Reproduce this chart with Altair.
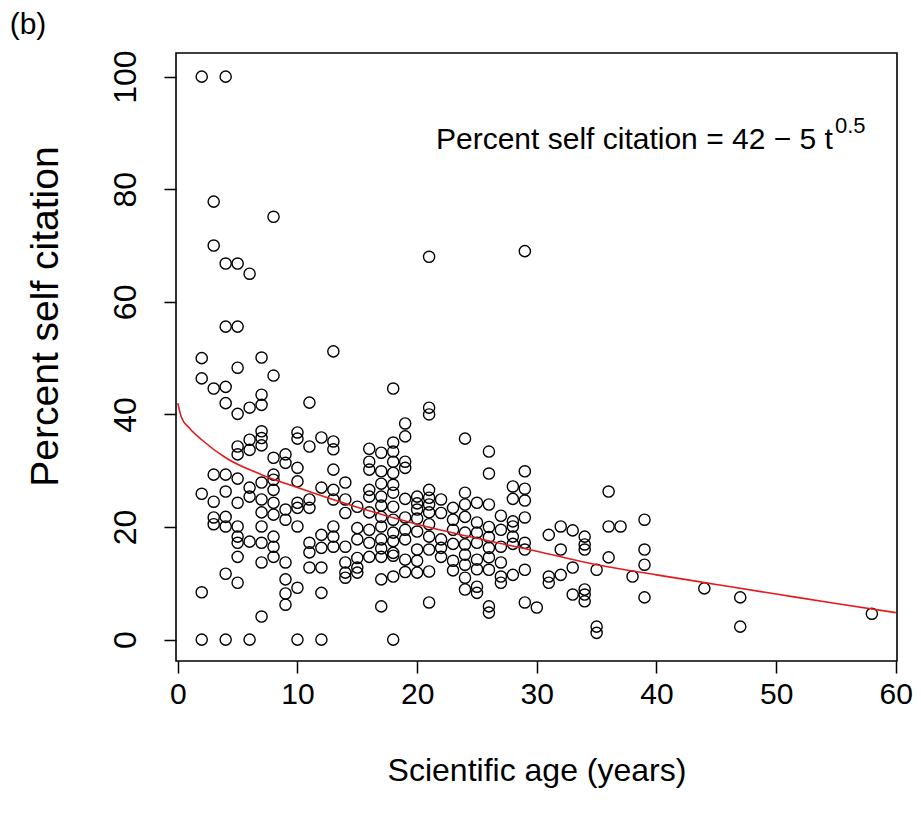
import altair as alt
import pandas as pd

# Scientific age (years) columns and the percent self citation values read at each
ages = [2, 3, 4, 5, 6, 7, 8, 9, 10, 11, 12, 13, 14, 15, 16, 17, 18, 19, 20, 21,
        22, 23, 24, 25, 26, 27, 28, 29, 30, 31, 32, 33, 34, 35, 36, 37, 38, 39,
        44, 47, 58]
values = [
    [100, 50, 46.4, 25.9, 8.4, 0],
    [77.8, 70, 44.6, 29.3, 24.5, 21.7, 20.5],
    [100, 66.8, 55.6, 44.9, 42, 29.3, 26.3, 21.8, 20.1, 11.7, 0],
    [66.8, 55.6, 48.3, 40.1, 34.3, 32.9, 28.6, 24.3, 20.1, 18.3, 17.2, 14.7, 10.1],
    [65, 41.2, 35.5, 33.7, 27, 25.4, 17.4, 0],
    [50.1, 43.5, 41.7, 37, 35.8, 34.5, 27.9, 24.9, 22.6, 20.1, 17.2, 13.7, 4.1],
    [75.1, 46.9, 32.3, 29.3, 28.4, 26.6, 24.3, 22.2, 18.3, 16.5, 14.7],
    [32.9, 31.4, 23.1, 21.3, 13.7, 10.7, 8.2, 6.2],
    [36.8, 35.7, 30.5, 28.1, 24.3, 23.4, 20.1, 9.2, 0],
    [42.1, 34.3, 24.9, 23.4, 17.2, 15.5, 12.8],
    [35.9, 27, 18.6, 16.3, 12.8, 8.3, 0],
    [51.2, 35.2, 33.8, 30.2, 26.6, 24.9, 20.1, 18.3, 16.5],
    [27.9, 24.9, 22.5, 16.5, 13.7, 11.9, 11],
    [23.6, 19.8, 17.8, 14.5, 12.8, 11.9],
    [33.9, 31.6, 30.2, 26.6, 25.4, 22.6, 19.5, 17.2, 14.7],
    [33.2, 29.9, 27.7, 25.4, 23.8, 21.8, 20.1, 17.8, 16.2, 14.7, 10.7, 5.9],
    [44.6, 35, 33.4, 31.6, 29.6, 27.5, 26.1, 23.6, 21.3, 19, 17.5, 15.4, 14.9, 11.2, 0],
    [38.4, 36.1, 31.6, 30.5, 25, 21.7, 19.5, 17.8, 14.2, 12],
    [25.4, 24.2, 23.1, 21.5, 19.2, 16, 14, 11.9],
    [68, 41.2, 40, 26.6, 25.2, 24, 22.6, 20.5, 18.3, 16, 12.1, 6.6],
    [24.9, 22.5, 17.8, 16.3, 14.7],
    [23.4, 21.3, 19.5, 17, 14, 12.3],
    [35.7, 26.1, 24, 21.8, 19, 16.9, 15.1, 13.3, 11, 8.9],
    [24.3, 20.8, 19, 17.2, 14.2, 12.5, 9.4, 8.3],
    [33.4, 29.5, 24, 20, 18.2, 16.3, 14.6, 12.4, 5.9, 4.8],
    [22, 19.5, 16.5, 13.7, 11.2, 10.1],
    [27.2, 25, 21, 20.1, 18.3, 17, 11.5],
    [69, 29.9, 26.8, 24.7, 21.7, 17.2, 16, 12.4, 6.6],
    [5.7],
    [18.6, 11.2, 10.1],
    [20.1, 16, 11.5],
    [19.4, 12.8, 8],
    [18.3, 16.9, 16, 8.9, 8, 6.8],
    [12.4, 2.3, 1.2],
    [26.3, 20.1, 14.6],
    [20.1],
    [11.2],
    [21.3, 16, 13.3, 7.5],
    [9.1],
    [7.5, 2.3],
    [4.6],
]

# fitted curve
fit_t = [0, 0.3, 1, 2, 4, 7, 10, 15, 20, 25, 30, 35, 40, 45, 50, 55, 60]
fit_v = [42, 39.5, 37.5, 35.5, 32.3, 29.3, 27, 23.5, 20.5, 18, 15.7, 13.3, 11.5, 9.8, 8.1, 6.4, 4.8]

x_ticks = [0, 10, 20, 30, 40, 50, 60]
y_ticks = [0, 20, 40, 60, 80, 100]

rows = [(a, v) for a, vs in zip(ages, values) for v in vs]
pts = pd.DataFrame(rows, columns=["age", "pct"])
fit = pd.DataFrame({"age": fit_t, "pct": fit_v})

FONT = "Liberation Sans"
W, H = 721, 608
LEFT = 168

xs = alt.Scale(domain=[-0.15, 60.1], nice=False, zero=False)
ys = alt.Scale(domain=[-3.8, 104.2], nice=False, zero=False)

x_axis = alt.Axis(values=x_ticks, title="Scientific age (years)", grid=False, domain=False,
                  tickSize=12, tickWidth=1.5, tickColor="black",
                  labelFont=FONT, labelFontSize=30, labelColor="black", labelPadding=6,
                  labelBaseline="top",
                  titleFont=FONT, titleFontSize=32, titleFontWeight="normal", titleColor="black",
                  titleY=109, titleBaseline="middle")
y_axis = alt.Axis(values=y_ticks, title="Percent self citation", grid=False, domain=False,
                  tickSize=12, tickWidth=1.5, tickColor="black",
                  labelFont=FONT, labelFontSize=32, labelColor="black", labelPadding=22,
                  labelAngle=270, labelAlign="center", labelBaseline="bottom",
                  titleFont=FONT, titleFontSize=39, titleFontWeight="normal", titleColor="black",
                  titleAngle=270, titleX=-131, titleY=263, titleAlign="center", titleBaseline="middle")

points = alt.Chart(pts).mark_point(shape="circle", filled=False, color="black",
                                   size=125, strokeWidth=1.4, opacity=1).encode(
    x=alt.X("age:Q", scale=xs, axis=x_axis),
    y=alt.Y("pct:Q", scale=ys, axis=y_axis),
)

curve = alt.Chart(fit).mark_line(color="#e41a1c", strokeWidth=1.6, interpolate="monotone").encode(
    x=alt.X("age:Q", scale=xs),
    y=alt.Y("pct:Q", scale=ys),
)

label_df = pd.DataFrame({"t": ["Percent self citation = 42 \u2212 5 t"]})
eq = alt.Chart(label_df).mark_text(font=FONT, fontSize=30, align="left", baseline="middle",
                                   color="black").encode(
    text="t:N", x=alt.value(260), y=alt.value(87))
sup = alt.Chart(pd.DataFrame({"t": ["0.5"]})).mark_text(font=FONT, fontSize=22, align="left",
                                                        baseline="middle", color="black").encode(
    text="t:N", x=alt.value(659), y=alt.value(73))
panel = alt.Chart(pd.DataFrame({"t": ["(b)"]})).mark_text(font=FONT, fontSize=30, align="center",
                                                          baseline="middle", color="black").encode(
    text="t:N", x=alt.value(-148), y=alt.value(-28))

chart = alt.layer(points, curve, eq, sup, panel).properties(
    width=W, height=H,
    autosize=alt.AutoSizeParams(type="none"),
    padding={"left": LEFT, "top": 45, "right": 16, "bottom": 140},
).configure(background="white").configure_view(stroke="black", strokeWidth=1.6)

chart.save("out.html", embed_options={"renderer": "svg", "actions": False})
